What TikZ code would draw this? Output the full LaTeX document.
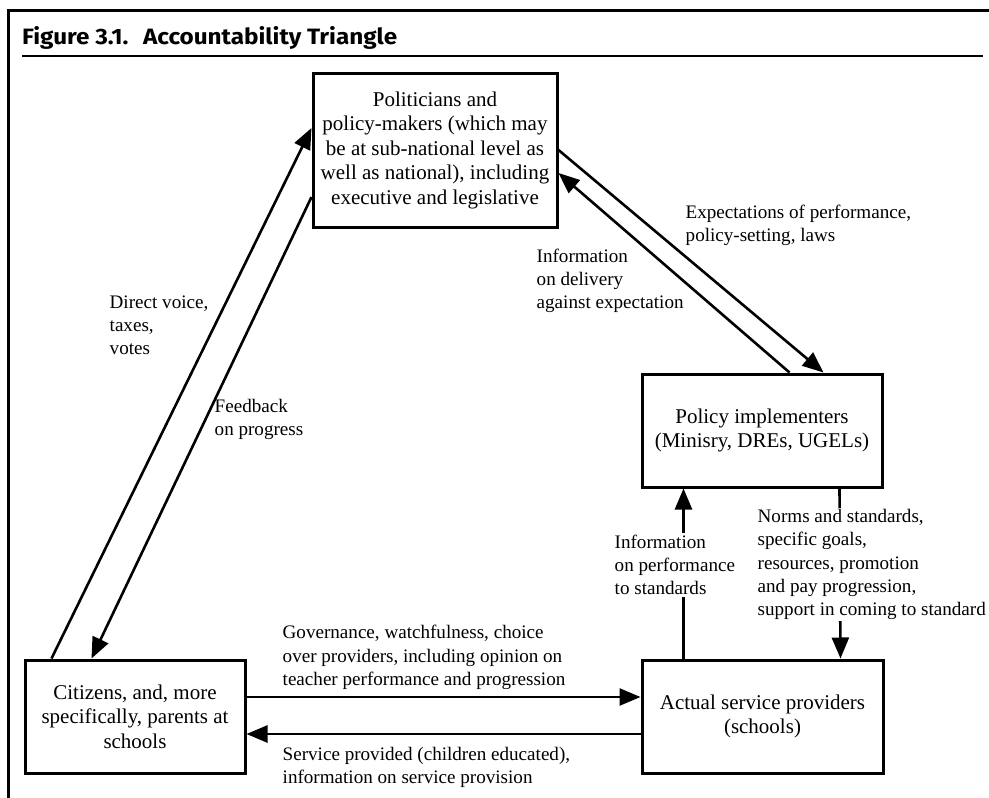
\documentclass[tikz,border=0pt]{standalone}
\usepackage{fontspec}
\setmainfont{Liberation Serif}
\newfontfamily\titlefont{Fira Sans}
\usetikzlibrary{arrows.meta}
\begin{document}
\begin{tikzpicture}[x=1pt,y=-1pt,
  box/.style={draw, line width=3pt, rectangle, align=center, inner sep=0pt,
    font=\fontsize{21}{24.5}\selectfont},
  arr/.style={line width=2.6pt, -{Triangle[length=21pt,width=17pt]}},
  lab/.style={align=left, anchor=west, inner sep=1.5pt,
    font=\fontsize{19.1}{23.2}\selectfont},
  labw/.style={lab, fill=white},
  frame/.style={line width=3pt},
  rule/.style={line width=1.5pt}]
\useasboundingbox (0,0) rectangle (989,798);
% frame and title
\coordinate (fb) at (8,798);
\coordinate (fc) at (8,10);
\coordinate (fr) at (989,10);
\draw[frame] (fb) -- (fc) -- (fr);
\coordinate (ul) at (22,56);
\coordinate (ur) at (983,56);
\draw[rule] (ul) -- (ur);
\node[anchor=base west, inner sep=0pt] (title) at (22,44)
  {\resizebox{375pt}{18pt}{\titlefont\bfseries Figure 3.1.\hspace{0.6em}Accountability Triangle}};
% boxes
\node[box, minimum width=244pt, minimum height=154pt] (pol) at (435,150)
  {Politicians and\\ policy-makers (which may\\ be at sub-national level as\\ well as national), including\\ executive and legislative};
\node[box, minimum width=240pt, minimum height=113pt] (pi) at (762,430.5)
  {Policy implementers\\ (Minisry, DREs, UGELs)};
\node[box, minimum width=241pt, minimum height=113pt] (sp) at (762.5,716.5)
  {Actual service providers\\ (schools)};
\node[box, minimum width=220pt, minimum height=113pt] (cit) at (135,716.5)
  {Citizens, and, more\\ specifically, parents at\\ schools};
% connectors
\draw[arr] ([xshift=28pt]cit.north west) -- ([yshift=22pt]pol.west);
\draw[arr] ([yshift=-47pt]pol.west) -- ([xshift=68pt]cit.north west);
\draw[arr] (pol.east) -- ([xshift=-60pt]pi.north east);
\draw[arr] ([xshift=-94pt]pi.north east) -- ([yshift=-23pt]pol.east);
\draw[arr] ([xshift=43pt]sp.north west) -- ([xshift=43pt]pi.south west);
\draw[arr] ([xshift=-44pt]pi.south east) -- ([xshift=-44pt]sp.north east);
\draw[arr] ([yshift=19.5pt]cit.east) -- ([yshift=19.5pt]sp.west);
\draw[arr] ([yshift=-17.5pt]sp.west) -- ([yshift=-17.5pt]cit.east);
% labels
\node[lab] (lexp) at (684,225) {Expectations of performance,\\ policy-setting, laws};
\node[lab] (ldel) at (535,281) {Information\\ on delivery\\ against expectation};
\node[lab] (ldir) at (108,325) {Direct voice,\\ taxes,\\ votes};
\node[lab] (lfee) at (213,419.5) {Feedback\\ on progress};
\node[labw] (lper) at (613,565) {Information\\ on performance\\ to standards};
\node[labw] (lnor) at (756,564.5) {Norms and standards,\\ specific goals,\\ resources, promotion\\ and pay progression,\\ support in coming to standard};
\node[lab] (lgov) at (281,657.5) {Governance, watchfulness, choice\\ over providers, including opinion on\\ teacher performance and progression};
\node[lab] (lser) at (281,767.5) {Service provided (children educated),\\ information on service provision};
\end{tikzpicture}
\end{document}
